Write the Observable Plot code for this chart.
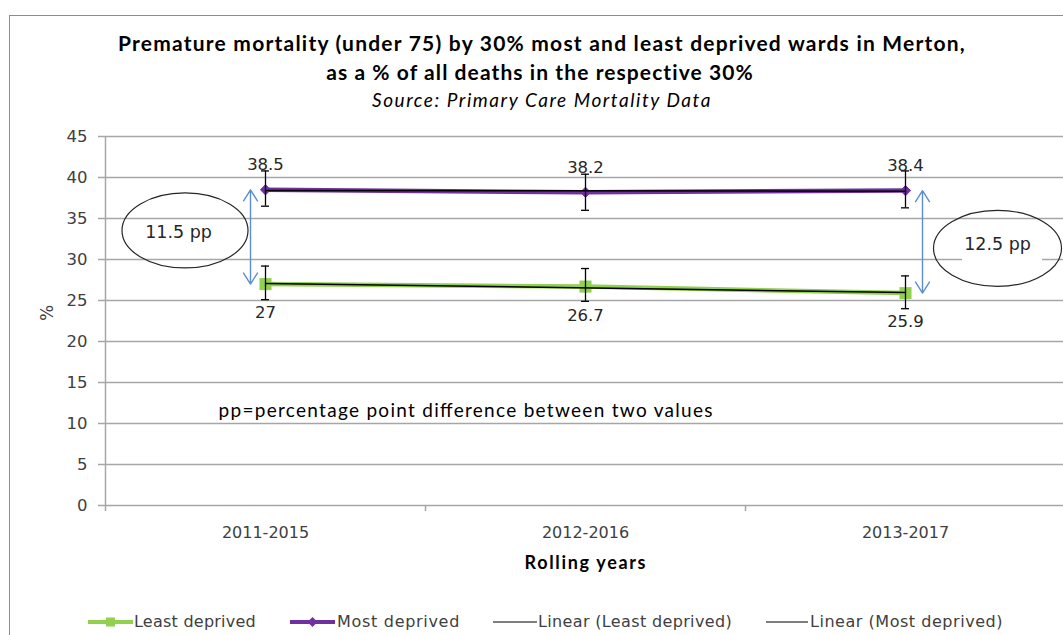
<!DOCTYPE html>
<html><head><meta charset="utf-8">
<script src="https://cdn.jsdelivr.net/npm/d3@7"></script>
<script src="https://cdn.jsdelivr.net/npm/@observablehq/plot@0.6"></script>
<style>
html,body{margin:0;padding:0;background:#fff;overflow:hidden;}
#page{position:relative;width:1063px;height:635px;overflow:hidden;background:#fff;}
#frame{position:absolute;left:9px;top:15px;width:1200px;height:800px;border-left:1.5px solid #8c8c8c;border-top:1.5px solid #8c8c8c;}
.t{position:absolute;white-space:nowrap;transform:translate(-50%,-50%);line-height:1;}
.lt{position:absolute;white-space:nowrap;transform:translateY(-50%);line-height:1;font-family:"DejaVu Sans";font-size:16px;color:#404040;}
.sw{position:absolute;transform:translateY(-50%);}
#chart{position:absolute;left:0;top:120px;}
</style></head><body>
<div id="page">
  <div id="frame"></div>
  <div id="title1" class="t" style="left:542px;top:42px;font-family:Lato;font-weight:700;font-size:21px;color:#000">Premature mortality (under 75) by 30% most and least deprived wards in Merton,</div>
  <div id="title2" class="t" style="left:540px;top:71px;font-family:Lato;font-weight:700;font-size:21px;color:#000">as a % of all deaths in the respective 30%</div>
  <div id="subtitle" class="t" style="left:542px;top:99px;font-family:Lato;font-style:italic;font-size:19px;color:#000">Source: Primary Care Mortality Data</div>
  <div id="chart"></div>
  <div id="legend"></div>
</div>
<script>
// ---- data ----
const categories = ["2011-2015", "2012-2016", "2013-2017"];
const leastDeprived = [27.0, 26.7, 25.9];
const mostDeprived = [38.5, 38.2, 38.4];
const leastLow = [25.1, 24.9, 24.0];
const leastHigh = [29.2, 28.9, 28.0];
const mostLow = [36.5, 36.0, 36.3];
const mostHigh = [40.8, 40.4, 40.8];
const yTicks = [0, 5, 10, 15, 20, 25, 30, 35, 40, 45];
const gapLabels = ["11.5 pp", "12.5 pp"];
const gapIndex = [0, 2];
const seriesNames = ["Least deprived", "Most deprived", "Linear (Least deprived)", "Linear (Most deprived)"];
const noteText = "pp=percentage point difference between two values";
const xTitle = "Rolling years";
const yTitle = "%";

const GREEN = "#92d050", PURPLE = "#7030a0", BLUE = "#5b8fcf", GRID = "#a6a6a6", TXT = "#404040";

const least = categories.map((c, i) => ({i, cat: c, v: leastDeprived[i], lo: leastLow[i], hi: leastHigh[i]}));
const most = categories.map((c, i) => ({i, cat: c, v: mostDeprived[i], lo: mostLow[i], hi: mostHigh[i]}));
const gaps = gapIndex.map((i, k) => ({i, hi: mostDeprived[i], lo: leastDeprived[i], mid: (mostDeprived[i] + leastDeprived[i]) / 2, label: gapLabels[k]}));
const bounds = d3.range(categories.length + 1).map(k => k - 0.5);
const centers = d3.range(categories.length);

// side-specific annotation offsets (pixels)
const side = [
  {arrowDx: -15, textDx: -87, textDy: -5, ellDx: -80, ellDy: -6, rx: 63, ry: 37.5},
  {arrowDx: 17, textDx: 92, textDy: 3, ellDx: 92.5, ellDy: 7, rx: 64, ry: 38}
];

const decor = (index, scales) => {
  const g = d3.create("svg:g");
  gaps.forEach((d, k) => {
    const s = side[k];
    const cx = scales.x(d.i) + s.ellDx, cy = scales.y(d.mid) + s.ellDy;
    if (k === 1) {
      g.append("rect").attr("x", scales.x(d.i) + 57).attr("y", cy - 20).attr("width", 80).attr("height", 34).attr("fill", "#fff");
    }
    g.append("ellipse").attr("cx", cx).attr("cy", cy).attr("rx", s.rx).attr("ry", s.ry)
      .attr("fill", "none").attr("stroke", "#262626").attr("stroke-width", 1.2);
  });
  return g.node();
};

const arrowMarks = [];
gaps.forEach((d, k) => {
  const s = side[k];
  for (const end of ["hi", "lo"]) {
    arrowMarks.push(Plot.arrow([d], {x1: "i", x2: "i", y1: "mid", y2: end, dx: s.arrowDx, stroke: BLUE, strokeWidth: 1.4, headLength: 14, headAngle: 64}));
  }
  arrowMarks.push(Plot.text([d], {x: "i", y: "mid", text: "label", dx: s.textDx, dy: s.textDy, fontSize: 17.5, fill: "#262626"}));
});

const chart = Plot.plot({
  width: 1063, height: 470,
  marginLeft: 106, marginRight: 0, marginTop: 16, marginBottom: 85,
  style: {fontFamily: "DejaVu Sans", fontSize: "16px", color: TXT, background: "transparent", overflow: "visible"},
  x: {type: "linear", domain: [-0.5, categories.length - 0.5], range: [105, 1065]},
  y: {domain: [0, 45]},
  marks: [
    Plot.ruleY(yTicks, {stroke: GRID, strokeWidth: 1.5}),
    decor,
    Plot.ruleX([bounds[0]], {stroke: GRID, strokeWidth: 1.5}),
    Plot.axisY({ticks: yTicks, tickSize: 8, tickPadding: 11, stroke: GRID, strokeWidth: 1.5, fill: TXT, fontSize: 16.5, label: null}),
    Plot.axisX({ticks: bounds, tickSize: 6, tickFormat: () => "", stroke: GRID, strokeWidth: 1.5, label: null}),
    Plot.axisX({ticks: centers, tickSize: 0, tickPadding: 21, tickFormat: i => categories[i], fill: TXT, fontSize: 16, label: null}),
    Plot.text([yTitle], {frameAnchor: "left", dx: -59, rotate: -90, fontSize: 17, fill: TXT}),
    Plot.text([xTitle], {frameAnchor: "bottom", dy: 58, lineAnchor: "middle", fontFamily: "Lato", fontWeight: "bold", fontSize: 18, fill: "#000"}),
    Plot.text([noteText], {frameAnchor: "top-left", dx: 112, dy: 274, lineAnchor: "middle", textAnchor: "start", fontFamily: "Lato", fontSize: 19, fill: "#000"}),
    Plot.line(least, {x: "i", y: "v", stroke: GREEN, strokeWidth: 4.5}),
    Plot.line(most, {x: "i", y: "v", stroke: PURPLE, strokeWidth: 4.5}),
    Plot.dot(least, {x: "i", y: "v", symbol: "square", r: 6.8, fill: GREEN}),
    Plot.dot(most, {x: "i", y: "v", symbol: "diamond2", r: 4.6, fill: PURPLE, stroke: PURPLE, strokeWidth: 1}),
    Plot.linearRegressionY(least, {x: "i", y: "v", stroke: "#000", strokeWidth: 1.5, ci: 0}),
    Plot.linearRegressionY(most, {x: "i", y: "v", stroke: "#000", strokeWidth: 1.5, ci: 0}),
    Plot.ruleX([...least, ...most], {x: "i", y1: "lo", y2: "hi", stroke: "#000", strokeWidth: 1.3}),
    Plot.ruleY([...least, ...most], {x1: "i", x2: "i", y: "lo", insetLeft: -4, insetRight: -4, stroke: "#000", strokeWidth: 1.3}),
    Plot.ruleY([...least, ...most], {x1: "i", x2: "i", y: "hi", insetLeft: -4, insetRight: -4, stroke: "#000", strokeWidth: 1.3}),
    Plot.text(most, {x: "i", y: "v", text: d => String(d.v), dy: -25, fontSize: 16.5, fill: "#262626"}),
    Plot.text(least, {x: "i", y: "v", text: d => String(d.v), dy: 29, fontSize: 16.5, fill: "#262626"}),
    ...arrowMarks
  ]
});
document.getElementById("chart").appendChild(chart);

// fit SVG texts to reference widths
const svgFit = {"Rolling years": 121, [noteText]: 494};
d3.select(chart).selectAll("text").each(function() {
  const t = this.textContent;
  if (svgFit[t]) { this.setAttribute("textLength", svgFit[t]); this.setAttribute("lengthAdjust", "spacing"); }
});

// ---- legend ----
const legendY = 622;
const legendItems = [
  {name: seriesNames[0], swX: 88, swW: 45, txtX: 134, txtW: 122, color: GREEN, lw: 4, marker: "square"},
  {name: seriesNames[1], swX: 290, swW: 45, txtX: 337, txtW: 123, color: PURPLE, lw: 4, marker: "diamond"},
  {name: seriesNames[2], swX: 493, swW: 44, txtX: 538, txtW: 194, color: "#000", lw: 1.2, marker: null},
  {name: seriesNames[3], swX: 766, swW: 42, txtX: 810, txtW: 193, color: "#000", lw: 1.2, marker: null}
];
const legend = d3.select("#legend");
legendItems.forEach(it => {
  const sw = legend.append("svg").attr("class", "sw").attr("width", it.swW).attr("height", 12)
    .style("left", it.swX + "px").style("top", legendY + "px");
  sw.append("line").attr("x1", 0).attr("x2", it.swW).attr("y1", 6).attr("y2", 6).attr("stroke", it.color).attr("stroke-width", it.lw);
  const c = it.swW / 2;
  if (it.marker === "square") sw.append("rect").attr("x", c - 4.5).attr("y", 1.5).attr("width", 9).attr("height", 9).attr("fill", it.color);
  if (it.marker === "diamond") sw.append("path").attr("d", `M${c},1L${c + 5},6L${c},11L${c - 5},6Z`).attr("fill", it.color);
  legend.append("div").attr("class", "lt").attr("data-w", it.txtW).style("left", it.txtX + "px").style("top", legendY + "px").text(it.name);
});

// fit HTML texts via letter-spacing
function fitHTML(el, target) {
  el.style.letterSpacing = "0px";
  const w = el.getBoundingClientRect().width;
  const n = el.textContent.length;
  el.style.letterSpacing = ((target - w) / n) + "px";
}
fitHTML(document.getElementById("title1"), 848);
fitHTML(document.getElementById("title2"), 428);
fitHTML(document.getElementById("subtitle"), 340);
document.querySelectorAll(".lt").forEach(el => fitHTML(el, +el.dataset.w));
</script>
</body></html>
